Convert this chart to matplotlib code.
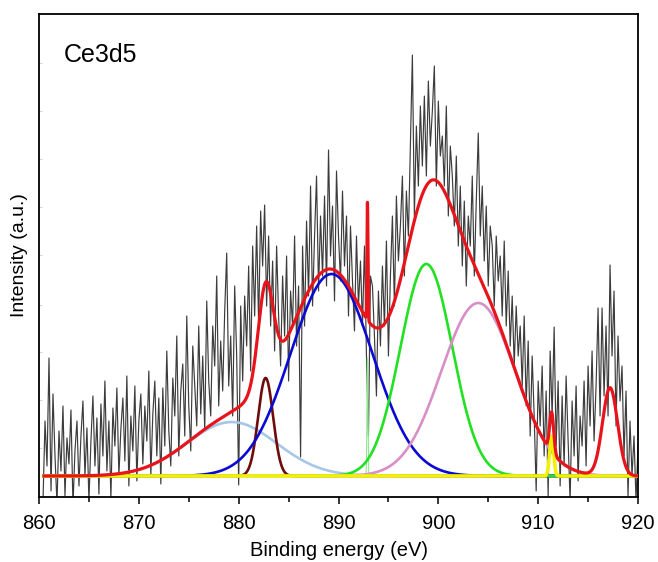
import numpy as np
import matplotlib

matplotlib.use("Agg")
import matplotlib.pyplot as plt
from matplotlib.ticker import MultipleLocator

plt.rcParams["font.family"] = ["Liberation Sans", "DejaVu Sans"]

# Measured spectrum, read off the picture (0.2 eV steps from 860.4 eV,
# intensity in arbitrary units, 0 = fitted background).
SCAN_START = 860.4
SCAN_STEP = 0.2
counts = [
    -25, 55, 10, 118, -15, 82, 20, -28, 45, 5,
    70, -20, 38, 12, 66, -30, 25, 55, -10, 40,
    75, 0, 48, -25, 35, 80, 10, 58, -18, 72,
    20, 95, 5, 55, -22, 68, 30, 88, 0, 47,
    78, 15, 100, -10, 60, 25, 90, -5, 55, 82,
    12, 70, 35, 105, 0, 62, 95, 20, 78, -8,
    88, 30, 125, 45, 10, 98, 60, 140, 20, 85,
    112, 40, 160, 70, 25, 130, 90, 50, 150, 62,
    120, 45, 175, 95, 60, 150, 110, 200, 70, 135,
    85, 165, 223, 90, 140, 60, 190, 120, -9, 170,
    95, 180, 130, 210, 105, 230, 160, 250, 150, 265,
    210, 271, 170, 240, 150, 215, 125, 230, 160, 110,
    200, 140, 220, 95, 185, 150, 240, 130, 190, 19,
    230, 150, 255, 180, 290, 170, 240, 300, 185, 260,
    200, 280, 190, 326, 220, 270, 175, 305, 240, 195,
    285, 210, 260, 160, 250, 195, 145, 240, 170, 215,
    150, 230, 120, 40, 200, 190, 140, 80, 185, 130,
    210, 150, 235, 120, 200, 260, 170, 280, 215, 250,
    300, 200, 285, 240, 330, 421, 260, 350, 290, 370,
    310, 380, 300, 395, 330, 365, 410, 290, 375, 320,
    340, 290, 370, 260, 330, 300, 250, 320, 230, 290,
    210, 275, 190, 260, 230, 300, 200, 275, 343, 240,
    290, 215, 270, 190, 250, 230, 170, 240, 195, 220,
    160, 235, 150, 205, 130, 180, 110, 170, 120, 150,
    90, 160, 70, 135, 40, 120, 60, -15, 95, 50,
    110, 20, 85, -20, 125, 60, 149, 30, 95, -10,
    80, 10, 100, 35, -25, 75, 20, 90, -5, 60,
    30, 95, 10, 110, 50, 125, 35, 90, 168, 60,
    168, 80, 150, 60, 211, 120, 185, 50, 140, 75,
    110, 20, 85, -20, 55, 0, 40, -25, 30,
]

# Fitted components: centre (eV), height (a.u.), gaussian width (eV), colour
peak_names = ["Ce a", "Ce b", "Ce c", "Ce d", "Ce e", "spike", "Ce f", "Ce g"]
peak_centres = [879.3, 882.7, 889.3, 898.8, 904.0, 892.9, 911.35, 917.2]
peak_heights = [54, 98, 202, 212, 173, 118, 40, 88]
peak_widths = [4.5, 0.75, 4.1, 2.6, 3.7, 0.05, 0.2, 0.75]
peak_colors = ["#a7c7e7", "#6e0c0c", "#0a0ad2", "#22e022", "#d88fc8",
               "#8ee88e", "#f2f200", None]

X_MIN, X_MAX = 860, 920
FIT_START, FIT_END = 860.5, 920.0


def gauss(x, centre, height, width):
    """
    One fitted gaussian component.
    """
    return height * np.exp(-0.5 * ((x - centre) / width) ** 2)


def generate_plot():
    """
    Draw the Ce3d5 fit.
    """
    fig = plt.figure(figsize=(6.58, 5.62), dpi=100)
    ax = fig.add_axes([0.0593, 0.1157, 0.9103, 0.8593])

    energy = SCAN_START + SCAN_STEP * np.arange(len(counts))
    ax.plot(energy, counts, color="#3c3c3c", linewidth=0.85, zorder=1)

    x = np.linspace(FIT_START, FIT_END, 6000)
    envelope = np.zeros_like(x)
    for name, c, h, w, col in zip(peak_names, peak_centres, peak_heights,
                                  peak_widths, peak_colors):
        y = gauss(x, c, h, w)
        envelope += y
        if col is None:
            continue
        if name == "spike":
            ax.plot(x, y, color=col, linewidth=0.8, zorder=2)
        elif col == "#f2f200":
            ax.plot(x, y, color=col, linewidth=2.5, zorder=4)
        else:
            ax.plot(x, y, color=col, linewidth=1.9, zorder=3)

    ax.plot(x, envelope, color="#e8141b", linewidth=2.3, zorder=5)

    ax.set_xlim(X_MIN, X_MAX)
    ax.set_ylim(-21, 462)
    ax.xaxis.set_major_locator(MultipleLocator(10))
    ax.xaxis.set_minor_locator(MultipleLocator(5))
    ax.tick_params(axis="x", which="major", direction="out", length=5,
                   width=1.1, labelsize=14.5, pad=7)
    ax.tick_params(axis="x", which="minor", direction="out", length=3.5,
                   width=1.1)
    ax.set_yticks([28, 76, 124, 171, 221, 269, 317, 365, 413])
    ax.tick_params(axis="y", direction="in", length=2, width=0.6,
                   color="#cccccc", labelleft=False)
    for spine in ax.spines.values():
        spine.set_linewidth(1.3)

    ax.set_xlabel("Binding energy (eV)", fontsize=14.5, labelpad=6)
    ax.set_ylabel("Intensity (a.u.)", fontsize=14, labelpad=8)
    ax.text(0.042, 0.94, "Ce3d5", transform=ax.transAxes, fontsize=18,
            va="top", ha="left")

    fig.savefig("out.png", dpi=100)


generate_plot()
